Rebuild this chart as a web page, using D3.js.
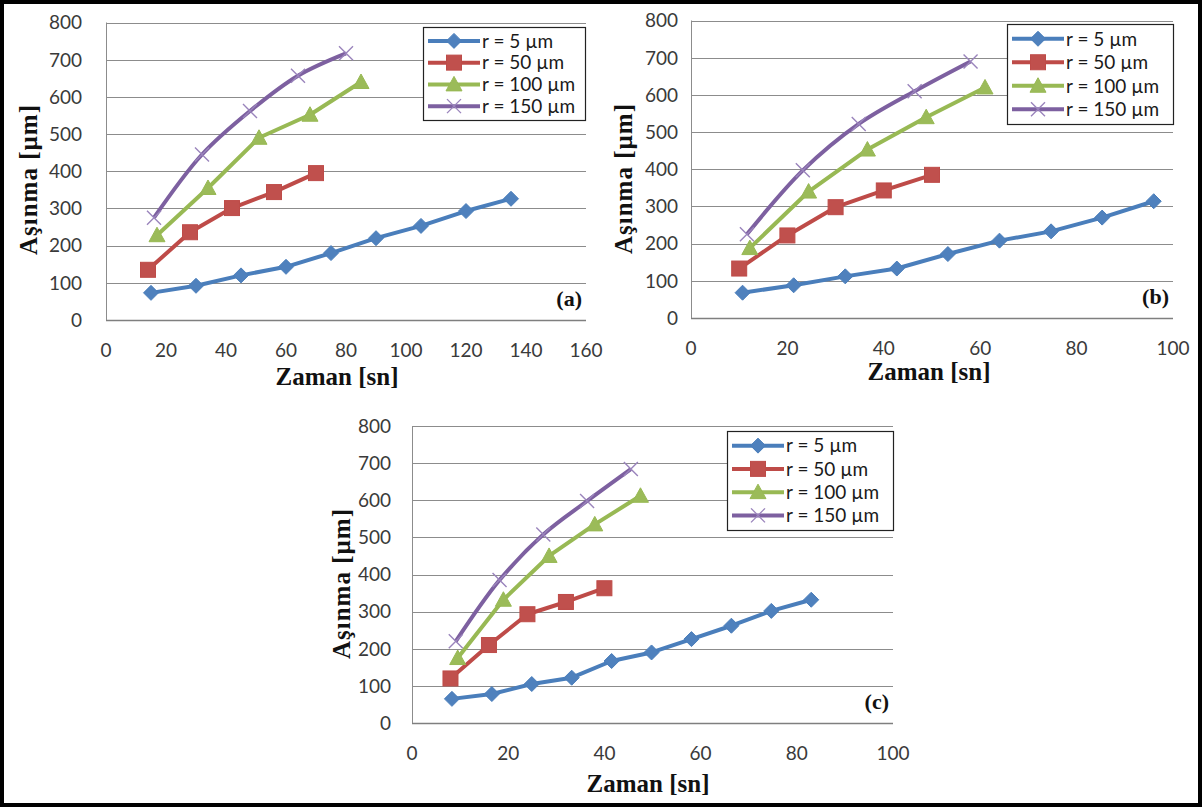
<!DOCTYPE html>
<html>
<head>
<meta charset="utf-8">
<script src="https://cdnjs.cloudflare.com/ajax/libs/d3/7.8.5/d3.min.js"></script>
<style>
    html, body { margin: 0; padding: 0; background: #fff; }
    svg { display: block; }
    .tickLabel { font-family: Lato, "Open Sans", sans-serif; font-size: 19px; fill: #3a3a3a; }
    .legendLabel { font-family: Lato, "Open Sans", sans-serif; font-size: 19px; fill: #1a1a1a; }
    .axisTitle { font-family: "Liberation Serif", "Times New Roman", serif; font-weight: bold; font-size: 25px; fill: #111; }
    .panelTag { font-family: "Liberation Serif", "Times New Roman", serif; font-weight: bold; font-size: 22px; fill: #111; }
</style>
</head>
<body>
<svg id="chart" width="1202" height="807"></svg>
<script>
"use strict";

var seriesNames = ["r = 5 µm", "r = 50 µm", "r = 100 µm", "r = 150 µm"];
var wearTicks = [0, 100, 200, 300, 400, 500, 600, 700, 800];
var timeTicksA = [0, 20, 40, 60, 80, 100, 120, 140, 160];
var timeTicksBC = [0, 20, 40, 60, 80, 100];

// panel (a)
var timeA = [
    [15, 30, 45, 60, 75, 90, 105, 120, 135],
    [14, 28, 42, 56, 70],
    [17, 34, 51, 68, 85],
    [16, 32, 48, 64, 80]
];
var wearA = [
    [73, 92, 120, 143, 180, 220, 253, 293, 326],
    [135, 236, 301, 344, 395],
    [228, 355, 490, 552, 640],
    [275, 445, 562, 657, 717]
];

// panel (b)
var timeB = [
    [10.7, 21.3, 32, 42.7, 53.3, 64, 74.7, 85.3, 96],
    [10, 20, 30, 40, 50],
    [12.2, 24.4, 36.6, 48.8, 61],
    [11.6, 23.2, 34.8, 46.4, 58]
];
var wearB = [
    [68, 88, 112, 133, 172, 208, 233, 270, 314],
    [133, 222, 298, 343, 385],
    [188, 340, 453, 540, 620],
    [225, 397, 522, 610, 690]
];

// panel (c)
var timeC = [
    [8.3, 16.6, 24.9, 33.2, 41.5, 49.8, 58.1, 66.4, 74.7, 83],
    [8, 16, 24, 32, 40],
    [9.5, 19, 28.5, 38, 47.5],
    [9.1, 18.2, 27.3, 36.4, 45.5]
];
var wearC = [
    [65, 78, 105, 122, 167, 190, 226, 262, 302, 332],
    [120, 210, 293, 326, 363],
    [175, 332, 450, 535, 612],
    [220, 385, 508, 598, 684]
];

var seriesStyles = [
    { line: "#4A7EBB", fill: "#4F81BD", marker: "diamond" },
    { line: "#BE4B48", fill: "#C0504D", marker: "square" },
    { line: "#98B954", fill: "#9BBB59", marker: "triangle" },
    { line: "#7D60A0", fill: "#9A84BC", marker: "cross" }
];

var svg = d3.select("#chart");

// outer frame of the figure
svg.append("rect")
    .attr("x", 2).attr("y", 2)
    .attr("width", 1198).attr("height", 803)
    .attr("fill", "#fff")
    .attr("stroke", "#000")
    .attr("stroke-width", 4);

/**
 * Draw one marker of the given kind centred at 0,0 inside g
 */
function drawMarker(g, style) {
    switch (style.marker) {
        case "diamond":
            g.append("path").attr("d", "M0,-7.5L7.5,0L0,7.5L-7.5,0Z")
                .attr("fill", style.fill).attr("stroke", style.line).attr("stroke-width", 1);
            break;
        case "square":
            g.append("rect").attr("x", -7.5).attr("y", -7.5).attr("width", 15).attr("height", 15)
                .attr("fill", style.fill).attr("stroke", style.line).attr("stroke-width", 1);
            break;
        case "triangle":
            g.append("path").attr("d", "M0,-8L8,6.5L-8,6.5Z")
                .attr("fill", style.fill).attr("stroke", style.line).attr("stroke-width", 1);
            break;
        case "cross":
            g.append("path").attr("d", "M-7,-7L7,7M-7,7L7,-7")
                .attr("fill", "none").attr("stroke", style.fill).attr("stroke-width", 1.4);
            break;
    }
}

/**
 * Draw one of the three panels
 */
function drawPanel(opt) {

    var x = d3.scaleLinear().domain([0, opt.xMax]).range([opt.left, opt.right]);
    var y = d3.scaleLinear().domain([0, 800]).range([opt.bottom, opt.top]);

    var g = svg.append("g");

    // gridlines
    g.selectAll(".grid")
        .data(wearTicks)
        .enter().append("line")
        .attr("x1", opt.left).attr("x2", opt.right)
        .attr("y1", function(d) { return Math.round(y(d)) + 0.5; })
        .attr("y2", function(d) { return Math.round(y(d)) + 0.5; })
        .attr("stroke", function(d) { return d === 0 ? "#7f7f7f" : "#8c8c8c"; })
        .attr("stroke-width", function(d) { return d === 0 ? 1.5 : 1; });

    // left axis line
    g.append("line")
        .attr("x1", Math.round(opt.left) + 0.5).attr("x2", Math.round(opt.left) + 0.5)
        .attr("y1", opt.top).attr("y2", opt.bottom)
        .attr("stroke", "#8c8c8c");

    // y tick labels
    g.selectAll(".yl")
        .data(wearTicks)
        .enter().append("text")
        .attr("class", "tickLabel")
        .attr("x", opt.left - opt.yLabelGap)
        .attr("y", function(d) { return y(d); })
        .attr("dy", "0.36em")
        .attr("text-anchor", "end")
        .text(function(d) { return d; });

    // x tick labels
    g.selectAll(".xl")
        .data(opt.xTicks)
        .enter().append("text")
        .attr("class", "tickLabel")
        .attr("x", function(d) { return x(d); })
        .attr("y", opt.bottom + 30)
        .attr("dy", "0.36em")
        .attr("text-anchor", "middle")
        .text(function(d) { return d; });

    // titles
    g.append("text")
        .attr("class", "axisTitle")
        .attr("transform", "translate(" + opt.yTitleX + "," + opt.yTitleY + ") rotate(-90)")
        .attr("text-anchor", "middle")
        .attr("dy", "0.35em")
        .attr("textLength", 150)
        .attr("lengthAdjust", "spacing")
        .text("Aşınma [µm]");

    g.append("text")
        .attr("class", "axisTitle")
        .attr("x", opt.xTitleX)
        .attr("y", opt.xTitleY)
        .attr("text-anchor", "middle")
        .text("Zaman [sn]");

    g.append("text")
        .attr("class", "panelTag")
        .attr("x", opt.right - 4)
        .attr("y", opt.bottom - 14)
        .attr("text-anchor", "end")
        .text(opt.tag);

    // series
    opt.times.forEach(function(times, i) {
        var style = seriesStyles[i];
        var pts = times.map(function(t, j) { return [t, opt.wears[i][j]]; });

        var line = d3.line()
            .x(function(d) { return x(d[0]); })
            .y(function(d) { return y(d[1]); })
            .curve(style.marker === "cross" ? d3.curveCatmullRom.alpha(0.5) : d3.curveLinear);

        g.append("path")
            .attr("d", line(pts))
            .attr("fill", "none")
            .attr("stroke", style.line)
            .attr("stroke-width", 4)
            .attr("stroke-linejoin", "round");

        g.selectAll(".m" + i)
            .data(pts)
            .enter().append("g")
            .attr("transform", function(d) { return "translate(" + x(d[0]) + "," + y(d[1]) + ")"; })
            .each(function() { drawMarker(d3.select(this), style); });
    });

    // legend
    var lg = svg.append("g").attr("transform", "translate(" + opt.legend.x + "," + opt.legend.y + ")");
    lg.append("rect")
        .attr("x", 0.5).attr("y", 0.5)
        .attr("width", opt.legend.w).attr("height", opt.legend.h)
        .attr("fill", "#fff")
        .attr("stroke", "#222")
        .attr("stroke-width", 1.2);

    var rowH = (opt.legend.h - 6) / 4;
    seriesNames.forEach(function(name, i) {
        var style = seriesStyles[i];
        var cy = 3 + rowH * (i + 0.5);
        lg.append("line")
            .attr("x1", 5).attr("x2", 57)
            .attr("y1", cy).attr("y2", cy)
            .attr("stroke", style.line)
            .attr("stroke-width", 4);
        drawMarker(lg.append("g").attr("transform", "translate(31," + cy + ")"), style);
        lg.append("text")
            .attr("class", "legendLabel")
            .attr("x", 59)
            .attr("y", cy)
            .attr("dy", "0.36em")
            .text(name);
    });
}

drawPanel({
    left: 106, right: 586, top: 22.5, bottom: 320, xMax: 160, xTicks: timeTicksA,
    times: timeA, wears: wearA, tag: "(a)", yLabelGap: 24,
    yTitleX: 28, yTitleY: 180, xTitleX: 337, xTitleY: 385,
    legend: { x: 423, y: 27, w: 162, h: 93 }
});

drawPanel({
    left: 691, right: 1173, top: 20.5, bottom: 318, xMax: 100, xTicks: timeTicksBC,
    times: timeB, wears: wearB, tag: "(b)", yLabelGap: 13,
    yTitleX: 623, yTitleY: 179, xTitleX: 929, xTitleY: 380,
    legend: { x: 1007, y: 24, w: 166, h: 100 }
});

drawPanel({
    left: 412, right: 893, top: 426, bottom: 723, xMax: 100, xTicks: timeTicksBC,
    times: timeC, wears: wearC, tag: "(c)", yLabelGap: 21,
    yTitleX: 341, yTitleY: 584, xTitleX: 648, xTitleY: 792,
    legend: { x: 727, y: 431, w: 166, h: 99 }
});
</script>
</body>
</html>
